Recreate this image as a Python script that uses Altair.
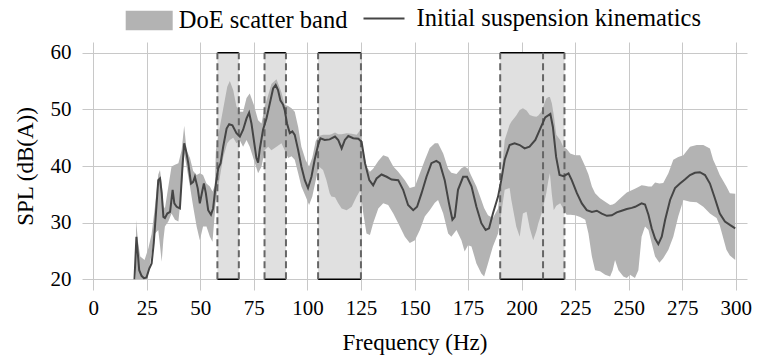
import altair as alt
import pandas as pd

# ---- data -------------------------------------------------------------
band_freq = [20.0, 21.0, 22.0, 24.0, 25.8, 27.3, 28.9, 30.4, 31.2, 32.0, 32.8, 33.5, 35.1, 36.6, 38.2,
             39.8, 41.3, 42.5, 43.6, 45.2, 46.7, 48.3, 49.8, 51.3, 52.9, 54.5, 55.7, 56.8, 57.3, 58.9,
             60.7, 62.6, 63.8, 65.4, 66.9, 68.5, 70.0, 71.6, 73.1, 75.0, 77.0, 78.6, 80.1, 81.7, 83.2,
             85.6, 87.9, 89.4, 91.0, 92.6, 94.1, 95.7, 97.2, 99.2, 100.8, 102.3, 103.9, 105.4, 107.3,
             108.9, 110.4, 111.2, 112.9, 114.4, 116.0, 118.3, 120.7, 123.0, 124.8, 126.1, 127.6, 129.2,
             130.7, 133.1, 135.4, 137.7, 140.1, 142.4, 145.5, 147.8, 150.2, 152.5, 154.8, 157.1, 159.5,
             161.0, 163.4, 165.7, 167.2, 169.6, 171.9, 173.4, 175.0, 176.6, 178.9, 181.2, 182.5, 184.3,
             186.6, 189.0, 190.5, 192.1, 194.4, 195.2, 197.5, 199.1, 200.6, 202.3, 203.8, 205.4, 206.9,
             207.8, 209.2, 210.1, 211.5, 212.5, 213.2, 214.1, 215.0, 216.2, 218.0, 219.4, 221.0, 222.7,
             225.0, 227.3, 229.7, 231.2, 232.8, 234.3, 236.6, 239.0, 241.3, 242.5, 243.6, 245.2, 247.5,
             249.1, 250.6, 252.9, 254.5, 256.0, 257.6, 259.2, 260.7, 262.3, 264.3, 266.1, 268.5, 270.8,
             273.1, 275.5, 278.6, 281.7, 284.8, 287.9, 289.4, 291.0, 292.5, 293.3, 295.6, 297.2, 299.7]
band_lower = [20.0, 20.0, 20.0, 20.0, 21.0, 24.6, 28.1, 28.7, 26.0, 23.1, 27.0, 29.3, 30.2, 31.6, 30.5,
              30.2, 35.8, 42.2, 39.9, 36.4, 32.8, 29.3, 26.9, 29.3, 29.3, 27.5, 26.6, 31.6, 34.0, 37.5,
              41.5, 44.0, 44.6, 45.0, 44.0, 44.5, 43.4, 44.6, 43.4, 41.1, 38.7, 39.9, 42.8, 43.4, 42.8,
              43.4, 44.0, 42.8, 41.4, 41.7, 41.1, 38.7, 36.4, 34.6, 33.1, 34.6, 37.5, 39.9, 39.3,
              37.5, 35.2, 34.6, 34.5, 33.4, 32.5, 32.2, 32.8, 34.6, 35.8, 31.6, 28.1, 27.8,
              29.9, 32.5, 33.4, 33.1, 31.6, 29.9, 27.5, 26.4, 26.9, 28.7, 31.1, 32.2, 33.5,
              34.0, 31.6, 28.1, 27.5, 28.7, 26.9, 24.9, 26.0, 25.8, 22.8, 21.0, 20.5, 22.8,
              25.8, 28.1, 31.6, 35.8, 36.1, 34.0, 29.3, 27.5, 31.6, 31.9, 29.0, 26.9, 28.5,
              29.9, 31.5, 32.8, 35.2, 37.5, 38.7, 35.0, 32.2, 33.0, 33.4, 32.5, 31.4, 31.4,
              31.3, 31.0, 30.5, 28.1, 24.0, 21.6, 21.4, 20.8, 20.5, 21.6, 23.4, 21.6, 20.5,
              20.2, 20.8, 20.2, 21.6, 27.5, 29.3, 28.7, 26.4, 24.0, 22.9, 23.7, 25.2, 27.5,
              31.1, 34.0, 33.7, 33.6, 32.8, 31.6, 31.2, 30.8, 29.5, 28.4, 25.2, 24.2, 23.4]
band_upper = [30.5, 26.5, 24.0, 23.4, 25.5, 28.0, 33.0, 38.5, 39.3, 37.0, 33.0, 32.5, 36.4, 39.9, 40.2,
              40.5, 42.8, 47.1, 42.8, 41.4, 39.1, 38.4, 38.7, 38.4, 36.9, 36.4, 35.5, 36.5, 42.8, 46.4,
              50.1, 54.0, 55.0, 53.4, 50.5, 49.6, 49.6, 52.0, 52.8, 50.8, 48.1, 47.5, 50.5, 52.5, 54.5,
              55.3, 53.0, 50.8, 50.6, 50.2, 49.6, 46.9, 43.4, 41.0, 39.9, 41.5, 44.4, 45.3, 45.5,
              45.5, 45.5, 45.6, 45.9, 45.6, 45.6, 45.8, 45.7, 45.5, 46.4, 42.8, 39.9, 39.0,
              39.5, 40.9, 41.9, 41.6, 39.9, 39.0, 37.5, 36.1, 36.4, 38.7, 41.0, 43.2, 44.0,
              44.0, 42.2, 39.5, 38.8, 38.6, 39.6, 39.9, 39.5, 38.2, 36.4, 34.0, 32.6, 31.3,
              30.8, 32.5, 38.0, 44.6, 47.3, 47.8, 48.9, 49.9, 50.2, 49.8, 49.0, 48.8, 48.7,
              48.9, 49.6, 50.5, 51.9, 52.2, 52.2, 51.1, 49.0, 45.5, 44.6, 43.4, 43.0, 42.2,
              41.9, 41.9, 39.9, 38.5, 36.4, 35.2, 34.3, 33.7, 33.1, 33.2, 33.4, 34.0, 34.8,
              35.3, 35.6, 36.0, 36.3, 36.6, 36.5, 36.4, 36.4, 37.1, 36.9, 37.0, 38.7, 41.1,
              41.6, 41.9, 43.4, 43.7, 43.7, 43.1, 41.1, 39.8, 38.4, 37.9, 36.4, 35.2, 35.1]

line_freq = [19.3, 20.2, 21.5, 22.6, 23.7, 24.9, 26.2, 27.3, 28.3, 29.3, 30.4, 31.2, 32.0, 32.8, 33.5,
             34.6, 35.9, 37.1, 37.9, 39.0, 40.5, 41.8, 42.5, 43.3, 44.4, 45.7, 46.7, 47.5, 48.8, 49.8,
             50.9, 51.7, 52.6, 53.7, 55.0, 56.0, 57.3, 58.4, 59.5, 60.7, 62.3, 63.5, 65.0, 66.9, 68.5,
             70.0, 71.6, 72.8, 73.9, 75.0, 76.2, 77.0, 77.8, 79.3, 80.9, 82.5, 84.0, 85.2, 86.3, 87.4,
             88.7, 89.4, 90.5, 91.8, 93.0, 94.1, 95.7, 97.2, 98.8, 100.3, 101.9, 103.4, 105.0, 106.1,
             108.1, 110.4, 112.9, 114.4, 116.0, 117.5, 119.1, 121.4, 123.8, 125.3, 126.9, 128.9, 130.7,
             132.3, 134.6, 137.0, 139.3, 142.4, 144.7, 147.0, 149.4, 151.2, 153.3, 155.6, 157.9, 160.2,
             161.8, 164.1, 166.1, 167.7, 168.8, 170.3, 172.7, 174.5, 176.6, 178.9, 181.2, 183.2, 184.8,
             186.6, 189.0, 190.5, 192.1, 194.4, 196.7, 199.1, 201.4, 203.7, 206.4, 208.7, 211.0, 213.4,
             214.6, 216.1, 217.7, 219.6, 221.9, 223.4, 225.8, 228.1, 230.4, 232.8, 235.1, 237.4, 239.8,
             242.1, 244.4, 246.7, 249.1, 251.4, 253.0, 256.0, 257.6, 259.2, 260.7, 262.3, 263.8, 265.4,
             267.0, 269.3, 271.6, 273.9, 276.2, 278.6, 280.9, 283.2, 285.6, 287.9, 290.2, 292.5, 294.9,
             297.2, 299.7]
line_spl = [20.0, 27.5, 21.6, 20.6, 20.2, 20.3, 21.9, 22.8, 26.4, 31.6, 37.5, 37.8, 35.2, 31.0, 30.8,
            31.6, 31.9, 35.8, 33.4, 32.8, 32.5, 40.5, 44.0, 42.8, 40.5, 36.9, 37.2, 38.1, 36.1, 33.4,
            35.5, 36.9, 35.2, 32.2, 31.4, 32.5, 36.9, 39.6, 40.5, 43.4, 46.6, 47.4, 47.2, 45.8, 45.2,
            46.4, 48.4, 49.4, 47.5, 44.6, 41.4, 40.6, 43.0, 46.4, 48.4, 51.1, 53.7, 54.3, 53.4, 51.6,
            50.8, 49.9, 47.5, 45.8, 46.1, 45.5, 42.8, 39.9, 37.5, 36.1, 38.1, 41.1, 43.7, 44.9,
            44.6, 44.7, 45.2, 44.6, 43.1, 44.6, 45.3, 44.9, 44.8, 44.3, 40.5, 37.5, 36.6,
            37.8, 38.5, 38.1, 37.6, 37.5, 35.8, 33.1, 32.2, 32.8, 35.2, 38.1, 40.5, 40.9,
            40.5, 37.5, 33.4, 30.5, 31.0, 35.8, 38.1, 38.1, 36.4, 32.8, 29.9, 28.7, 29.0,
            31.6, 34.6, 37.5, 41.1, 43.7, 44.0, 43.7, 43.1, 43.4, 44.6, 46.6, 48.6, 49.2,
            46.9, 41.6, 38.4, 38.2, 38.7, 37.5, 35.2, 33.4, 32.2, 31.9, 32.1, 31.6, 31.2,
            31.3, 31.8, 32.1, 32.4, 32.6, 32.8, 33.4, 33.2, 31.4, 29.0, 27.2, 26.2, 27.5,
            30.5, 34.0, 36.1, 36.9, 37.6, 38.4, 38.8, 38.9, 38.4, 36.9, 34.3, 31.6, 30.2,
            29.6, 29.0]

region_start = [58, 80, 105, 190, 210]
region_end = [68, 90, 125, 210, 220]
region_low = 20
region_high = 60

band_name = "DoE scatter band"
line_name = "Initial suspension kinematics"
x_ticks = list(range(0, 301, 25))
y_ticks = [20, 30, 40, 50, 60]

# ---- tables -------------------------------------------------------------
band_df = pd.DataFrame({"f": band_freq, "lo": band_lower, "hi": band_upper, "s": band_name})
line_df = pd.DataFrame({"f": line_freq, "spl": line_spl, "s": line_name})
reg_df = pd.DataFrame({"x0": region_start, "x1": region_end, "lo": region_low, "hi": region_high})
edges = sorted(set(region_start + region_end))
edge_df = pd.DataFrame({"x": edges, "lo": region_low, "hi": region_high})

FONT = "Liberation Serif"
W, H = 665, 248
LEG_FS = 24.5
xs = alt.Scale(domain=[-5.2, 305.2], nice=False, zero=False)
ys = alt.Scale(domain=[18.1, 61.9], nice=False, zero=False)

x_axis = alt.Axis(values=x_ticks, grid=True, domain=False, ticks=False, labelPadding=7,
                  labelFont=FONT, labelFontSize=21, labelColor="black",
                  title="Frequency (Hz)", titleBaseline="alphabetic", titleY=59)
y_axis = alt.Axis(values=y_ticks, grid=True, domain=False, ticks=False, labelPadding=11,
                  labelFont=FONT, labelFontSize=21, labelColor="black",
                  title="SPL (dB(A))", titleBaseline="alphabetic", titleX=-50, titleY=H / 2)

rects = alt.Chart(reg_df).mark_rect(color="#e0e0e0").encode(
    x=alt.X("x0:Q", scale=xs, axis=x_axis), x2="x1:Q",
    y=alt.Y("lo:Q", scale=ys, axis=y_axis), y2="hi:Q")

band = alt.Chart(band_df).mark_area(opacity=1).encode(
    x=alt.X("f:Q", scale=xs), y=alt.Y("lo:Q", scale=ys), y2="hi:Q",
    fill=alt.Fill("s:N", scale=alt.Scale(domain=[band_name], range=["#b3b3b3"]),
                  legend=alt.Legend(title=None, orient="none", legendX=43.7, legendY=-45,
                                    symbolType="M-1,-0.42L1,-0.42L1,0.42L-1,0.42Z",
                                    symbolSize=2209, symbolStrokeWidth=0, symbolOpacity=1,
                                    labelFont=FONT, labelFontSize=LEG_FS, labelColor="black",
                                    labelOffset=6, padding=0, labelLimit=0)))

top_edge = alt.Chart(reg_df).mark_rule(color="black", strokeWidth=1.5).encode(
    x="x0:Q", x2="x1:Q", y="hi:Q")
bot_edge = alt.Chart(reg_df).mark_rule(color="black", strokeWidth=1.5).encode(
    x="x0:Q", x2="x1:Q", y="lo:Q")
dashes = alt.Chart(edge_df).mark_rule(color="#666666", strokeWidth=2, strokeDash=[7, 4]).encode(
    x="x:Q", y="lo:Q", y2="hi:Q")

line = alt.Chart(line_df).mark_line(strokeWidth=2).encode(
    x=alt.X("f:Q", scale=xs), y=alt.Y("spl:Q", scale=ys),
    stroke=alt.Stroke("s:N", scale=alt.Scale(domain=[line_name], range=["#454545"]),
                      legend=alt.Legend(title=None, orient="none", legendX=280.5, legendY=-45,
                                        symbolType="stroke", symbolSize=1681,
                                        symbolStrokeWidth=2, labelOffset=11, padding=0,
                                        labelFont=FONT, labelFontSize=LEG_FS, labelColor="black",
                                        labelLimit=0)))

chart = alt.layer(rects, band, top_edge, bot_edge, dashes, line).resolve_legend(
    fill="independent", stroke="independent"
).properties(
    width=W, height=H,
    autosize=alt.AutoSizeParams(type="none"),
    padding={"left": 82, "top": 42, "right": 10, "bottom": 66},
).configure(font=FONT).configure_view(stroke=None).configure_axis(
    labelFont=FONT, labelFontSize=21, labelColor="black",
    titleFont=FONT, titleFontSize=23, titleFontWeight="normal", titleColor="black",
    gridColor="#c8c8c8", gridWidth=1,
).configure_legend(
    labelFont=FONT, labelFontSize=LEG_FS, labelColor="black",
)

chart.save("out.html", embed_options={"renderer": "svg", "actions": False})
